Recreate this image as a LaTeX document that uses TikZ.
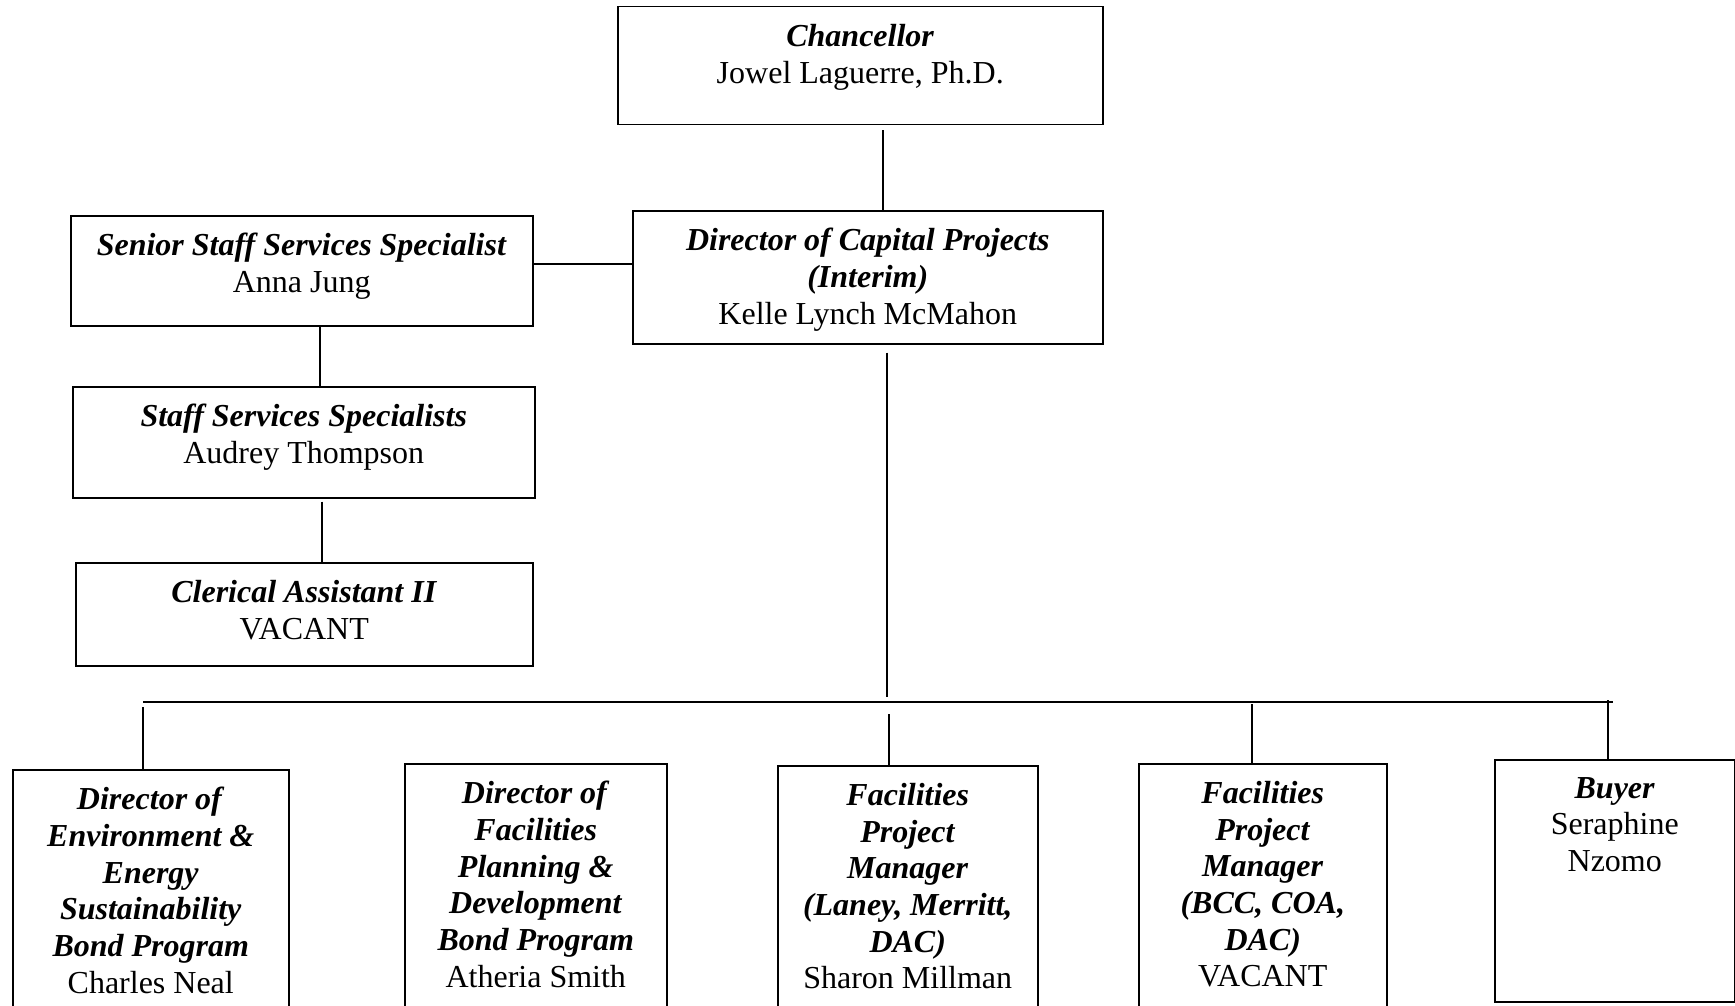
\documentclass[tikz,border=0pt]{standalone}
\usepackage{fontspec}
\setmainfont{Liberation Serif}
\newcommand{\ttl}[1]{\textbf{\textit{#1}}}
\tikzset{
  post/.style={draw, line width=1.5pt, anchor=north west, inner sep=0pt},
  lab/.style={anchor=north, align=center, inner sep=0pt, yshift=-18pt},
  link/.style={line width=1.2pt},
}
\begin{document}
\begin{tikzpicture}[x=1pt, y=-1pt, font=\fontsize{32}{36.7}\selectfont]
\useasboundingbox (0,0) rectangle (1735,1006);
\fill[white] (0,0) rectangle (1735,1006);
\clip (0,0) rectangle (1735,1006);

\node[post, minimum width=485, minimum height=118, label={[lab]north:{\ttl{Chancellor}\\Jowel Laguerre, Ph.D.}}] (chancellor) at (617,6) {};
\node[post, minimum width=470, minimum height=133, label={[lab]north:{\ttl{Director of Capital Projects}\\\ttl{(Interim)}\\Kelle Lynch McMahon}}] (director) at (632,210) {};
\node[post, minimum width=462, minimum height=110, label={[lab]north:{\ttl{Senior Staff Services Specialist}\\Anna Jung}}] (senior) at (70,215) {};
\node[post, minimum width=462, minimum height=111, label={[lab]north:{\ttl{Staff Services Specialists}\\Audrey Thompson}}] (staff) at (72,386) {};
\node[post, minimum width=457, minimum height=103, label={[lab]north:{\ttl{Clerical Assistant II}\\VACANT}}] (clerical) at (75,562) {};

\node[post, minimum width=276, minimum height=260, label={[lab]north:{\ttl{Director of}\\\ttl{Environment \&}\\\ttl{Energy}\\\ttl{Sustainability}\\\ttl{Bond Program}\\Charles Neal}}] (envdir) at (12,769) {};
\node[post, minimum width=262, minimum height=260, label={[lab]north:{\ttl{Director of}\\\ttl{Facilities}\\\ttl{Planning \&}\\\ttl{Development}\\\ttl{Bond Program}\\Atheria Smith}}] (plandir) at (404,763) {};
\node[post, minimum width=260, minimum height=260, label={[lab]north:{\ttl{Facilities}\\\ttl{Project}\\\ttl{Manager}\\\ttl{(Laney, Merritt,}\\\ttl{DAC)}\\Sharon Millman}}] (fpmone) at (777,765) {};
\node[post, minimum width=248, minimum height=260, label={[lab]north:{\ttl{Facilities}\\\ttl{Project}\\\ttl{Manager}\\\ttl{(BCC, COA,}\\\ttl{DAC)}\\VACANT}}] (fpmtwo) at (1138,763) {};
\node[post, minimum width=240, minimum height=242, label={[lab]north:{\ttl{Buyer}\\Seraphine\\Nzomo}}] (buyer) at (1494,759) {};

\coordinate (c1) at (883,0);
\coordinate (c2) at (0,264);
\coordinate (c3) at (320,0);
\coordinate (c4) at (322,0);
\coordinate (spine) at (887,0);
\coordinate (busl) at (143,702);
\coordinate (busr) at (1613,702);

\draw[link, shorten <=5pt] (chancellor.south -| c1) -- (director.north -| c1);
\draw[link] (senior.east |- c2) -- (director.west |- c2);
\draw[link] (senior.south -| c3) -- (staff.north -| c3);
\draw[link, shorten <=3pt] (staff.south -| c4) -- (clerical.north -| c4);
\draw[link, shorten <=8pt, shorten >=5pt] (director.south -| spine) -- (busl -| spine);
\draw[link] (busl) -- (busr);
\foreach \n/\x/\y in {envdir/143/707, fpmone/889/714, fpmtwo/1252/704, buyer/1608/700}
  \draw[link] (\x,\y) -- (\n.north -| \x,0);
\end{tikzpicture}
\end{document}
